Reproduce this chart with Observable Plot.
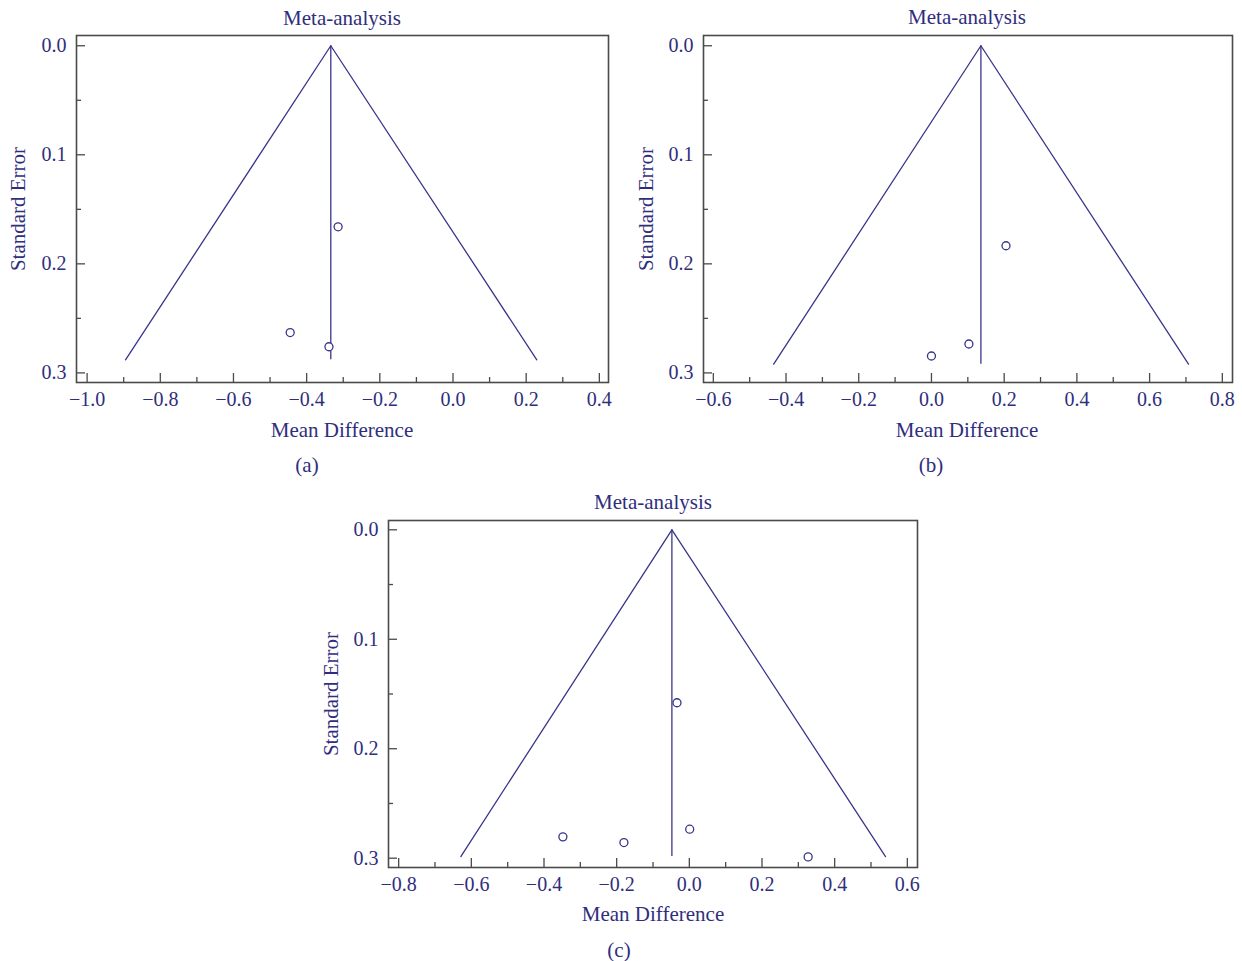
<!DOCTYPE html>
<html><head><meta charset="utf-8">
<script src="https://cdn.jsdelivr.net/npm/d3@7"></script>
<script src="https://cdn.jsdelivr.net/npm/@observablehq/plot@0.6"></script>
<style>
body{margin:0;background:#fff;}
#root{position:relative;width:1242px;height:961px;font-family:"Liberation Serif",serif;color:#2f2e7d;overflow:hidden;}
.lbl{position:absolute;transform:translate(-50%,-50%);white-space:nowrap;font-size:21px;line-height:1;}
.ylbl{transform:translate(-50%,-50%) rotate(-90deg);}
.panel{position:absolute;}
</style></head><body><div id="root"></div>
<script>
// ---- text ----
const panelTitles = ["Meta-analysis", "Meta-analysis", "Meta-analysis"];
const panelCaptions = ["(a)", "(b)", "(c)"];
const xAxisLabel = "Mean Difference";
const yAxisLabel = "Standard Error";

// ---- shared y ticks ----
const yTicks = [0.0, 0.1, 0.2, 0.3];
const yMinorTicks = [0.05, 0.15, 0.25];

// ---- panel (a) ----
const aStudyMD = [-0.314, -0.445, -0.339];
const aStudySE = [0.166, 0.263, 0.276];
const aFunnelMD = [-0.895, -0.334, 0.229];
const aFunnelSE = [0.288, 0.0, 0.288];
const aXTicks = [-1.0, -0.8, -0.6, -0.4, -0.2, 0.0, 0.2, 0.4];
const aXMinorTicks = [-0.9, -0.7, -0.5, -0.3, -0.1, 0.1, 0.3];

// ---- panel (b) ----
const bStudyMD = [0.0, 0.103, 0.205];
const bStudySE = [0.2845, 0.2735, 0.1834];
const bFunnelMD = [-0.434, 0.136, 0.707];
const bFunnelSE = [0.292, 0.0, 0.292];
const bXTicks = [-0.6, -0.4, -0.2, 0.0, 0.2, 0.4, 0.6, 0.8];
const bXMinorTicks = [-0.5, -0.3, -0.1, 0.1, 0.3, 0.5, 0.7];

// ---- panel (c) ----
const cStudyMD = [-0.348, -0.180, -0.034, 0.001, 0.327];
const cStudySE = [0.2805, 0.2857, 0.158, 0.2735, 0.2988];
const cFunnelMD = [-0.629, -0.048, 0.540];
const cFunnelSE = [0.2985, 0.0, 0.2985];
const cXTicks = [-0.8, -0.6, -0.4, -0.2, 0.0, 0.2, 0.4, 0.6];
const cXMinorTicks = [-0.7, -0.5, -0.3, -0.1, 0.1, 0.3, 0.5];

const NAVY = "#2f2e7d";
const LINE = "#37368a";
const FRAME = "#4a4a4a";
const fmt = d3.format(".1f");

const panels = [
  {md: aStudyMD, se: aStudySE, fmd: aFunnelMD, fse: aFunnelSE, xt: aXTicks, xm: aXMinorTicks,
   left: 0, top: 0, width: 620, height: 440, mL: 76, mR: 12, mT: 35, mB: 58,
   xd: [-1.029, 0.425], yd: [-0.0094, 0.3088],
   title: [342, 18], xlab: [342, 430], cap: [307, 465], ylab: [18, 209]},
  {md: bStudyMD, se: bStudySE, fmd: bFunnelMD, fse: bFunnelSE, xt: bXTicks, xm: bXMinorTicks,
   left: 625, top: 0, width: 617, height: 440, mL: 78, mR: 10, mT: 35, mB: 58,
   xd: [-0.627, 0.828], yd: [-0.0094, 0.3088],
   title: [967, 17], xlab: [967, 430], cap: [931, 465], ylab: [646, 209]},
  {md: cStudyMD, se: cStudySE, fmd: cFunnelMD, fse: cFunnelSE, xt: cXTicks, xm: cXMinorTicks,
   left: 310, top: 485, width: 620, height: 440, mL: 78, mR: 13, mT: 35, mB: 58,
   xd: [-0.828, 0.628], yd: [-0.0085, 0.3085],
   title: [653, 502], xlab: [653, 914], cap: [619, 950], ylab: [331, 694]}
];

const root = document.getElementById("root");

function addLabel(text, pos, cls) {
  const d = document.createElement("div");
  d.className = "lbl" + (cls ? " " + cls : "");
  d.textContent = text;
  d.style.left = pos[0] + "px";
  d.style.top = pos[1] + "px";
  root.appendChild(d);
}

panels.forEach((p, i) => {
  const studies = p.md.map((v, k) => ({md: v, se: p.se[k]}));
  const funnel = p.fmd.map((v, k) => ({md: v, se: p.fse[k]}));
  const chart = Plot.plot({
    width: p.width, height: p.height,
    marginLeft: p.mL, marginRight: p.mR, marginTop: p.mT, marginBottom: p.mB,
    style: {fontFamily: "'Liberation Serif', serif", fontSize: "20px", background: "transparent", overflow: "visible"},
    x: {domain: p.xd, label: null},
    y: {domain: p.yd, reverse: true, label: null},
    marks: [
      Plot.axisX(p.xm, {anchor: "bottom", tickSize: -5, tickFormat: () => "", stroke: FRAME, strokeWidth: 1.3, label: null}),
      Plot.axisX(p.xt, {anchor: "bottom", tickSize: -9, tickPadding: 18, tickFormat: fmt, stroke: FRAME, strokeWidth: 1.3, fill: NAVY, label: null}),
      Plot.axisY(yMinorTicks, {anchor: "left", tickSize: -5, tickFormat: () => "", stroke: FRAME, strokeWidth: 1.3, label: null}),
      Plot.axisY(yTicks, {anchor: "left", tickSize: -9, tickPadding: 19, tickFormat: fmt, stroke: FRAME, strokeWidth: 1.3, fill: NAVY, label: null}),
      Plot.line(funnel, {x: "md", y: "se", stroke: LINE, strokeWidth: 1.3}),
      Plot.ruleX([funnel[1]], {x: "md", y1: "se", y2: p.fse[0], stroke: LINE, strokeWidth: 1.3}),
      Plot.dot(studies, {x: "md", y: "se", r: 4, stroke: LINE, strokeWidth: 1.3, fill: "white"}),
      Plot.frame({stroke: FRAME, strokeWidth: 1.6})
    ]
  });
  chart.classList.add("panel");
  chart.style.left = p.left + "px";
  chart.style.top = p.top + "px";
  root.appendChild(chart);
  addLabel(panelTitles[i], p.title);
  addLabel(xAxisLabel, p.xlab);
  addLabel(panelCaptions[i], p.cap);
  addLabel(yAxisLabel, p.ylab, "ylbl");
});
</script>
</body></html>
